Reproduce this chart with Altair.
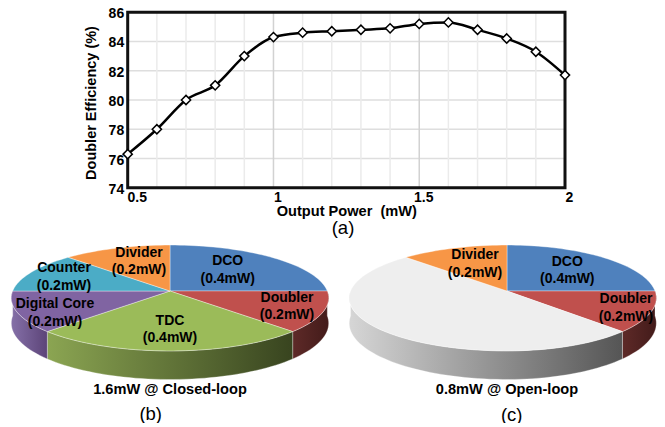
import math
import altair as alt
import pandas as pd

# ---- data ----
power = [0.5, 0.6, 0.7, 0.8, 0.9, 1.0, 1.1, 1.2, 1.3, 1.4, 1.5, 1.6, 1.7, 1.8, 1.9, 2.0]
efficiency = [76.3, 78, 80, 81, 83, 84.3, 84.6, 84.7, 84.8, 84.9, 85.2, 85.3, 84.8, 84.2, 83.3, 81.7]
y_ticks = [74, 76, 78, 80, 82, 84, 86]
x_ticks = [0.5, 1, 1.5, 2]
x_grid = [0.6, 0.7, 0.8, 0.9, 1.1, 1.2, 1.3, 1.4, 1.6, 1.7, 1.8, 1.9]
x_grid_major = [1, 1.5]

b_names = ["DCO", "Doubler", "TDC", "Digital Core", "Counter", "Divider"]
b_power = [0.4, 0.2, 0.4, 0.2, 0.2, 0.2]
c_names = ["DCO", "Doubler", "Idle", "Divider"]
c_power = [0.4, 0.2, 0.8, 0.2]

# ---- layout / style ----
W, H = 649, 415
OFF = 8
FONT = "Liberation Sans"
XS = alt.Scale(domain=[0.5, 2], range=[127.7 - OFF, 565 - OFF], nice=False, zero=False)
YS = alt.Scale(domain=[74, 86], range=[187.8 - OFF, 12.2 - OFF], nice=False, zero=False)
PX = alt.Scale(domain=[0, W], range=[0, W], nice=False, zero=False)
PY = alt.Scale(domain=[0, H], range=[0, H], nice=False, zero=False)

FACE = {"DCO": "#4f81bd", "Doubler": "#c0504d", "TDC": "#9bbb59", "Digital Core": "#8064a2",
        "Counter": "#4bacc6", "Divider": "#f79646", "Idle": "#eeeeee"}
WALL = {"Doubler": ("#5e2a28", "#431b1a"), "TDC": ("#8ba552", "#38441f"),
        "Digital Core": ("#8570a8", "#5c4478"), "Idle": ("#d6d6d6", "#555555")}
K, A, DEPTH = 0.132, 52.0, 24.8


def project(cx, cy, rl, rr, deg):
    phi = math.radians(deg)
    z = -math.cos(phi)
    w = 1 - K * z
    s = math.sin(phi)
    return cx + (rr if s > 0 else rl) * s / w, cy + A * z / w, DEPTH / w


def arc_deg(a, b, step=2.0):
    n = max(2, int(abs(b - a) / step))
    return [a + (b - a) * i / n for i in range(n + 1)]


def poly_layer(pts, fill, stroke="#ffffff", sw=0.6):
    df = pd.DataFrame({"x": [p[0] - OFF for p in pts], "y": [p[1] - OFF for p in pts],
                       "o": list(range(len(pts)))})
    return alt.Chart(df).mark_line(fill=fill, stroke=stroke, strokeWidth=sw, strokeOpacity=0.6,
                                   strokeJoin="round").encode(
        x=alt.X("x:Q", scale=PX, axis=None),
        y=alt.Y("y:Q", scale=PY, axis=None),
        order="o:Q")


def pie_layers(names, vals, cx, cy, rl, rr):
    total = sum(vals)
    walls, faces = [], []
    a = 0.0
    for name, v in zip(names, vals):
        b = a + 360.0 * v / total
        if name in WALL:
            lo = max(a, 90.0)
            hi = min(b, 270.0)
            top = [project(cx, cy, rl, rr, d) for d in arc_deg(lo, hi)]
            pts = [(p[0], p[1]) for p in top] + [(p[0], p[1] + p[2]) for p in reversed(top)]
            pts.append(pts[0])
            grad = alt.Gradient(gradient="linear", x1=0, x2=1, y1=0, y2=0,
                                stops=[alt.GradientStop(color=WALL[name][0], offset=0),
                                       alt.GradientStop(color=WALL[name][1], offset=1)])
            walls.append(poly_layer(pts, grad, sw=0.5))
        arc = [project(cx, cy, rl, rr, d) for d in arc_deg(a, b)]
        pts = [(cx, cy)] + [(p[0], p[1]) for p in arc] + [(cx, cy)]
        faces.append(poly_layer(pts, FACE[name], sw=0.6))
        a = b
    return walls + faces


def note(lines, x, y, size=14, weight="bold", lh=17.5):
    return alt.Chart(pd.DataFrame({"a": [0]})).mark_text(
        text=lines, font=FONT, fontSize=size, fontWeight=weight, color="#000000",
        align="center", baseline="middle", lineHeight=lh).encode(
        x=alt.value(x - OFF), y=alt.value(y - OFF))


def slice_label(name, val, x, y):
    return note([name, f"({val}mW)"], x, y)


# ---- line panel ----
ydf = pd.DataFrame({"v": y_ticks[1:-1], "a": 0.5, "b": 2})
hgrid = alt.Chart(ydf).mark_rule(color="#dedede", strokeWidth=1.5).encode(
    x=alt.X("a:Q", scale=XS, axis=None), x2="b:Q",
    y=alt.Y("v:Q", scale=YS, axis=alt.Axis(
        values=y_ticks, grid=False, ticks=False, domain=False, format="d",
        labelFont=FONT, labelFontSize=14, labelFontWeight="bold", labelColor="#000000",
        labelPadding=4, labelOffset=1.5, offset=-(127.7 - OFF),
        title="Doubler Efficiency (%)", titleFont=FONT, titleFontSize=14.5,
        titleFontWeight="bold", titleColor="#000000", titlePadding=10, titleY=94.5)))


def vgrid(vals, color, w):
    df = pd.DataFrame({"v": vals, "a": 74, "b": 86})
    return alt.Chart(df).mark_rule(color=color, strokeWidth=w).encode(
        x=alt.X("v:Q", scale=XS, axis=None),
        y=alt.Y("a:Q", scale=YS, axis=None), y2="b:Q")


x_axis_layer = alt.Chart(pd.DataFrame({"v": [1.0], "a": 74, "b": 86})).mark_rule(
    color="#d2d2d2", strokeWidth=1.5).encode(
    x=alt.X("v:Q", scale=XS, axis=alt.Axis(
        values=x_ticks, grid=False, ticks=False, domain=False, labelFlush=False,
        format="~g", labelFont=FONT, labelFontSize=14, labelFontWeight="bold",
        labelColor="#000000", labelPadding=3,
        labelOffset={"condition": {"test": "datum.value === 0.5", "value": 9}, "value": 4},
        offset=-(H - (187.8 - OFF)),
        title="Output Power\u00a0\u00a0(mW)", titleFont=FONT, titleFontSize=14.6,
        titleFontWeight="bold", titleColor="#000000", titlePadding=-1)),
    y=alt.Y("a:Q", scale=YS, axis=None), y2="b:Q")

frame = alt.Chart(pd.DataFrame({"a": [0.5], "b": [2], "c": [74], "d": [86]})).mark_rect(
    fill=None, stroke="#111111", strokeWidth=3).encode(
    x=alt.X("a:Q", scale=XS, axis=None), x2="b:Q",
    y=alt.Y("c:Q", scale=YS, axis=None), y2="d:Q")

ldf = pd.DataFrame({"p": power, "e": efficiency})
line = alt.Chart(ldf).mark_line(color="#000000", strokeWidth=2.5, interpolate="monotone").encode(
    x=alt.X("p:Q", scale=XS, axis=None), y=alt.Y("e:Q", scale=YS, axis=None))
pts = alt.Chart(ldf).mark_point(shape="diamond", filled=True, fill="#ffffff", stroke="#000000",
                                strokeWidth=1.5, size=85, opacity=1).encode(
    x=alt.X("p:Q", scale=XS, axis=None), y=alt.Y("e:Q", scale=YS, axis=None))

top = [hgrid, vgrid(x_grid, "#ebebeb", 1.5), vgrid(x_grid_major[1:], "#d2d2d2", 1.5), x_axis_layer,
       frame, line, pts]

# ---- pies ----
pie_b = pie_layers(b_names, b_power, 170, 291, 157.3, 157.3)
pie_c = pie_layers(c_names, c_power, 507, 291, 156.4, 148.0)

labels = [
    slice_label("DCO", 0.4, 227.7, 261), slice_label("Doubler", 0.2, 287, 297.7),
    slice_label("TDC", 0.4, 170, 320.7), slice_label("Digital Core", 0.2, 55, 304.3),
    slice_label("Counter", 0.2, 64, 268), slice_label("Divider", 0.2, 139, 252.5),
    slice_label("DCO", 0.4, 567.3, 261.5), slice_label("Doubler", 0.2, 626, 299),
    slice_label("Divider", 0.2, 475, 255),
    note(["1.6mW @ Closed-loop"], 170, 389.8, size=14.6),
    note(["0.8mW @ Open-loop"], 507, 389.8, size=14.6),
    note(["(a)"], 343, 228, size=18.5, weight="normal"),
    note(["(b)"], 150.7, 414, size=18.5, weight="normal"),
    note(["(c)"], 511.7, 414.5, size=18.5, weight="normal"),
]

chart = alt.layer(*top, *pie_b, *pie_c, *labels).resolve_scale(
    x="independent", y="independent"
).properties(
    width=W, height=H, padding=0,
    autosize=alt.AutoSizeParams(type="none", contains="padding"),
    background="#ffffff",
).configure_view(stroke=None)

chart.save("out.html", embed_options={"renderer": "svg", "actions": False})
